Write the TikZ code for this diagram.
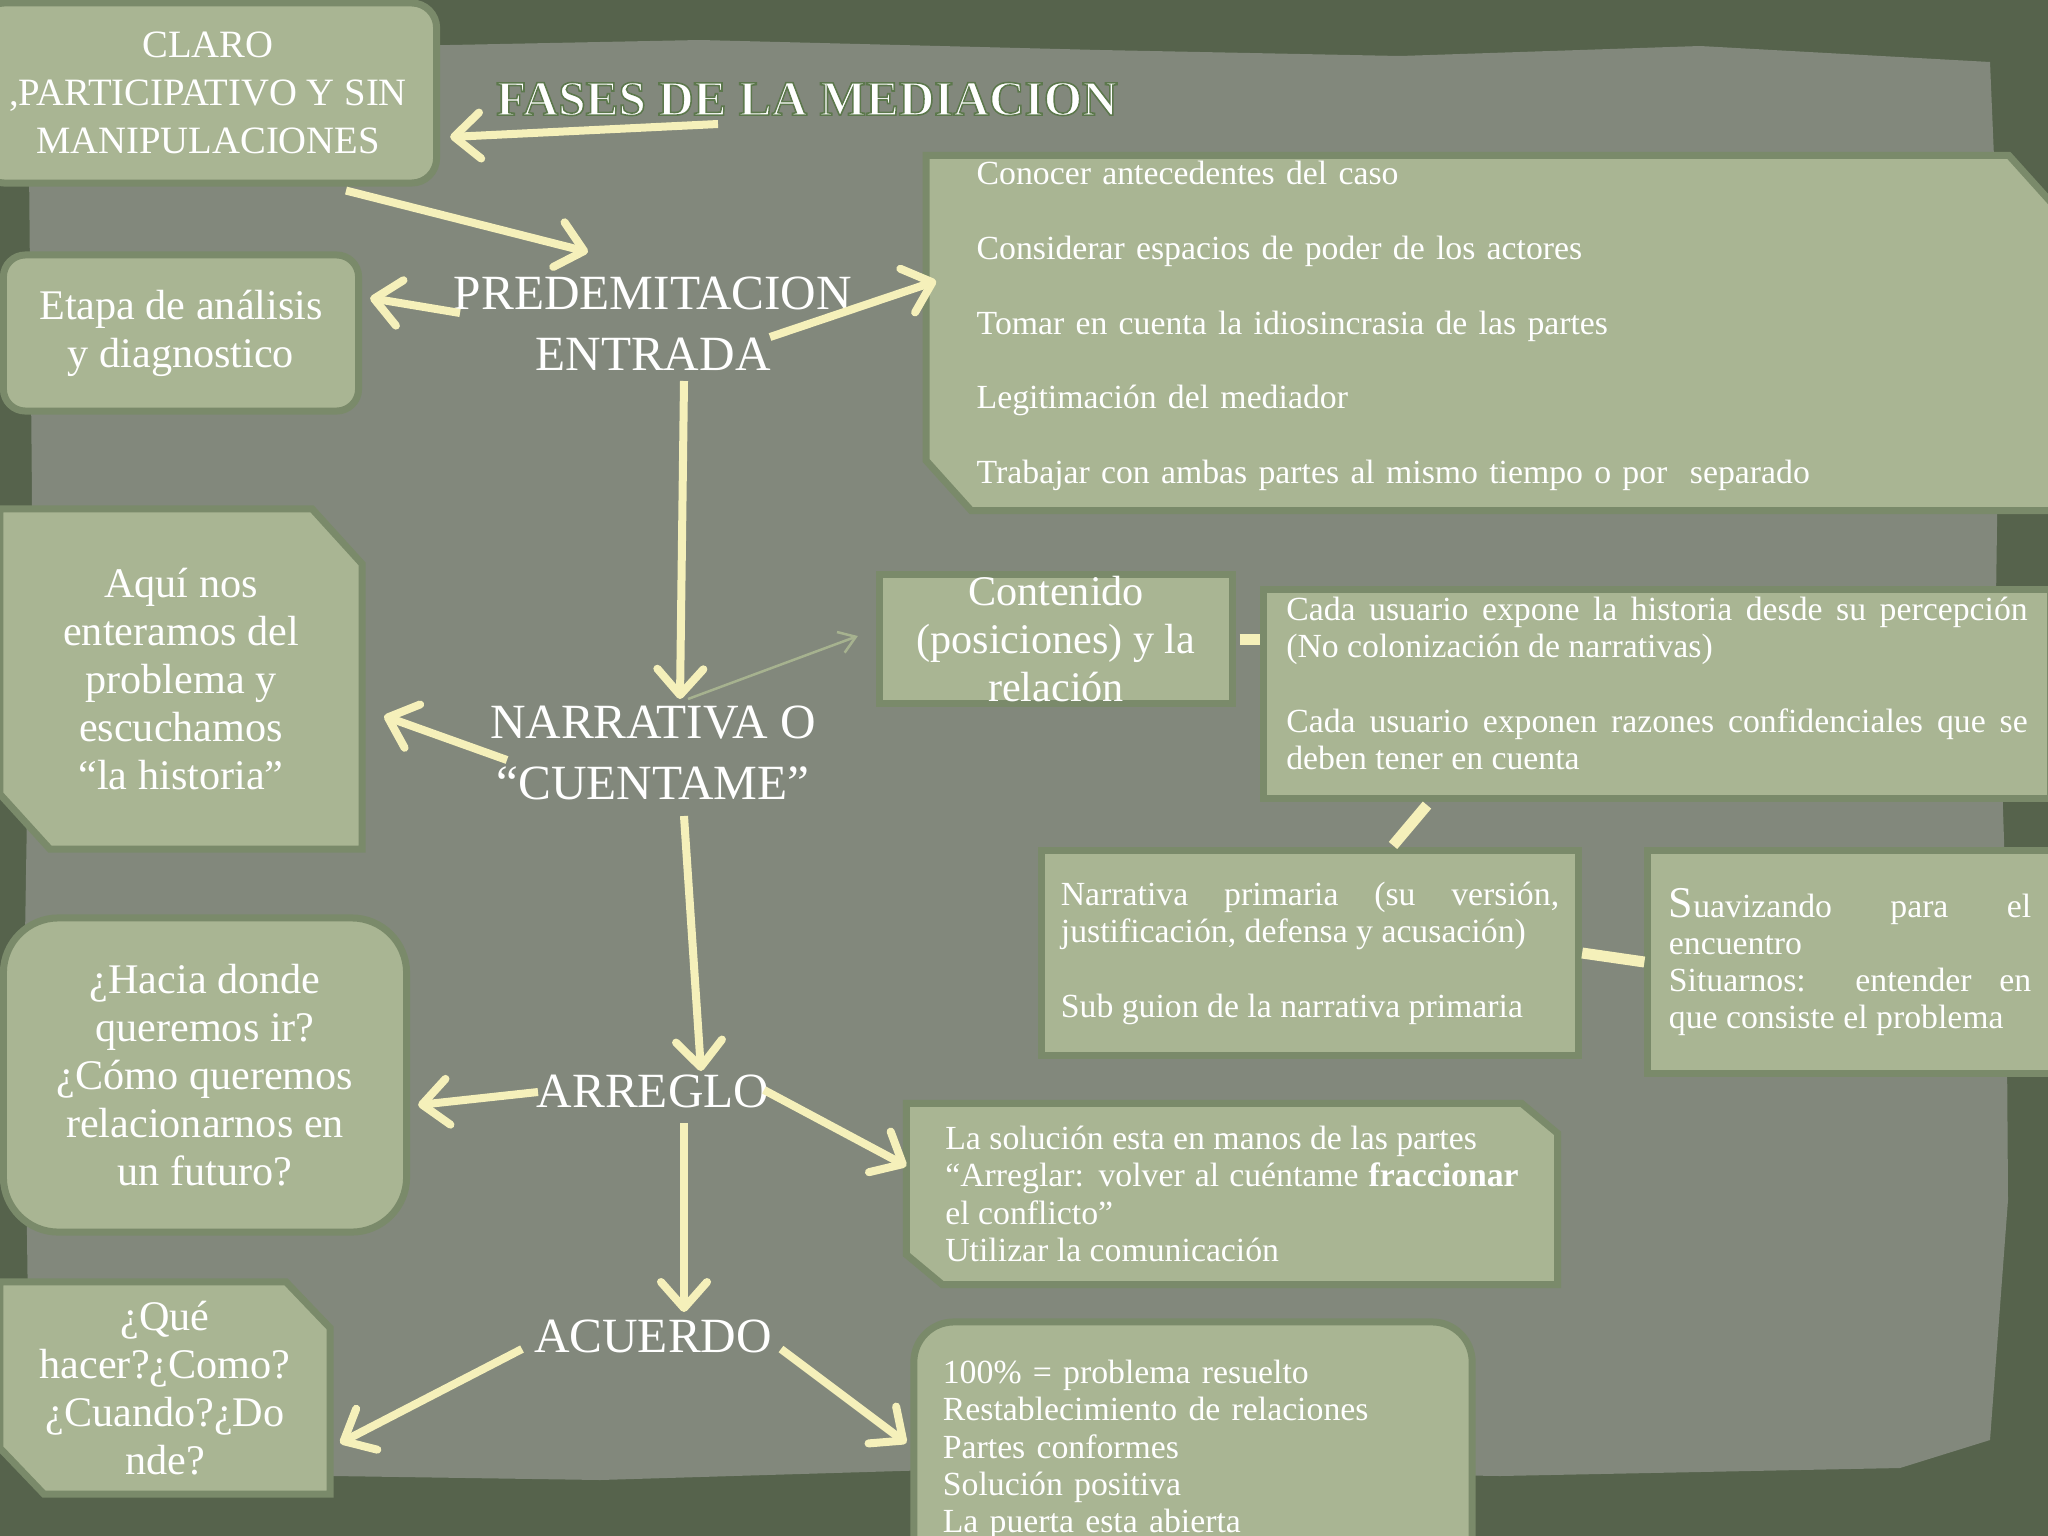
\documentclass[tikz,border=0pt]{standalone}
\usepackage{fontspec}
\setmainfont{Liberation Serif}
\usetikzlibrary{arrows.meta,calc}

\definecolor{bgdark}{HTML}{56634C}
\definecolor{paper}{HTML}{82887C}
\definecolor{boxfill}{HTML}{A9B593}
\definecolor{boxedge}{HTML}{7A8A6A}
\definecolor{cream}{HTML}{F5F0BA}
\definecolor{sage}{HTML}{A6B28F}

\pgfdeclarelayer{back}
\pgfsetlayers{back,main}

\newcommand{\titlefont}{\fontsize{14}{16}\selectfont\bfseries}
\newcommand{\phasefont}{\fontsize{14}{17.4}\selectfont}
\newcommand{\midfont}{\fontsize{12}{13.7}\selectfont}
\newcommand{\clarofont}{\fontsize{11}{13.7}\selectfont}
\newcommand{\smallfont}{\fontsize{9.6}{10.6}\selectfont}
\newcommand{\outlined}[1]{\special{pdf:code 2 Tr 0.45 w 0.36 0.47 0.30 RG}#1\special{pdf:code 0 Tr}}
% box with two cut corners, drawn round a named node
\newcommand{\snipbox}[3]{%
  \draw[boxpath] (#1.north west) -- ($(#1.north east)+(-#2,0)$)
    -- ($(#1.north east)+(0,#3)$) -- (#1.south east)
    -- ($(#1.south west)+(#2,0)$) -- ($(#1.south west)+(0,-#3)$) -- cycle;}

\tikzstyle{phase}=[text=white, align=center, inner sep=0pt, font=\phasefont]
\tikzstyle{boxpath}=[fill=boxfill, draw=boxedge, line width=0.07cm]
\tikzstyle{box}=[shape=rectangle, boxpath, text=white, inner sep=0pt,
                 align=center, font=\midfont]
\tikzstyle{snip}=[box, fill=none, draw=none]
\tikzstyle{arr}=[draw=cream, line width=0.08cm,
                 -{Straight Barb[length=0.26cm,width=0.46cm,round]}]
\tikzstyle{thinarr}=[draw=sage, line width=0.025cm,
                     -{Straight Barb[length=0.16cm,width=0.22cm]}]
\tikzstyle{link}=[draw=cream, line width=0.11cm]

\begin{document}
\begin{tikzpicture}[x=0.01cm, y=-0.01cm]

% background and paper
\useasboundingbox (0,0) rectangle (2048,1536);
\begin{pgfonlayer}{back}
\fill[bgdark] (0,0) rectangle (2048,1536);
\fill[paper] (28,52) -- (400,46) -- (700,40) -- (1100,50) -- (1400,56)
  -- (1700,46) -- (1990,62) -- (2000,300) -- (1996,600) -- (2006,900)
  -- (2008,1200) -- (1990,1440) -- (1900,1468) -- (1500,1476)
  -- (1000,1468) -- (600,1480) -- (200,1474) -- (30,1470) -- (24,1000)
  -- (32,500) -- cycle;
\end{pgfonlayer}

% title
\node[text=white, font=\titlefont, inner sep=0pt] (title) at (807,99)
  {\outlined{FASES DE LA MEDIACION}};

% phases
\node[phase] (pred) at (653,324) {PREDEMITACION\\ENTRADA};
\node[phase] (narr) at (653,753) {NARRATIVA O\\“CUENTAME”};
\node[phase] (arre) at (653,1091) {ARREGLO};
\node[phase] (acue) at (653,1336) {ACUERDO};

% boxes on the left
\node[box, rounded corners=0.25cm, minimum width=4.57cm, minimum height=1.8cm,
      font=\clarofont] (claro) at (208,93)
  {CLARO\\,PARTICIPATIVO Y SIN\\MANIPULACIONES};
\node[box, rounded corners=0.22cm, minimum width=3.55cm, minimum height=1.56cm]
  (etapa) at (181,333) {Etapa de análisis\\y diagnostico};
\node[snip, minimum width=3.55cm, minimum height=3.33cm] (aqui) at (181,679)
  {Aquí nos\\enteramos del\\problema y\\escuchamos\\“la historia”};
\node[box, rounded corners=0.55cm, minimum width=4.03cm, minimum height=3.14cm]
  (hacia) at (205,1075)
  {¿Hacia donde\\queremos ir?\\¿Cómo queremos\\relacionarnos en\\un futuro?};
\node[snip, minimum width=3.23cm, minimum height=2.05cm] (que) at (165,1388)
  {¿Qué\\hacer?¿Como?\\¿Cuando?¿Do\\nde?};

% boxes on the right
\node[snip, minimum width=11.2cm, minimum height=3.48cm, align=left,
      text width=10.26cm, font=\fontsize{9.6}{21.3}\selectfont]
  (antec) at (1490,333)
  {Conocer antecedentes del caso\\
   Considerar espacios de poder de los actores\\
   Tomar en cuenta la idiosincrasia de las partes\\
   Legitimación del mediador\\
   Trabajar con ambas partes al mismo tiempo o por~ separado\par\vspace*{4pt}};
\node[box, minimum width=3.53cm, minimum height=1.28cm] (conte) at (1056,639)
  {Contenido\\(posiciones) y la\\relación};
\node[box, minimum width=7.86cm, minimum height=2.09cm, align=justify,
      text width=7.41cm, font=\smallfont] (cada) at (1657,694)
  {Cada usuario expone la historia desde su percepción\linebreak
   (No colonización de narrativas)\\[10.6pt]
   Cada usuario exponen razones confidenciales que se\linebreak
   deben tener en cuenta\par\vspace*{6pt}};
\node[box, minimum width=5.37cm, minimum height=2.04cm, align=justify,
      text width=4.98cm, font=\smallfont] (prim) at (1310,953)
  {Narrativa primaria (su versión,\linebreak
   justificación, defensa y acusación)\\[10.6pt]
   Sub guion de la narrativa primaria\par};
\node[box, minimum width=4.04cm, minimum height=2.22cm, align=justify,
      text width=3.62cm, font=\smallfont] (suav) at (1850,962)
  {{\fontsize{12.5}{10.6}\selectfont S}uavizando para el\linebreak
   encuentro\\
   Situarnos: entender en\linebreak
   que consiste el problema\par};
\node[snip, minimum width=6.44cm, minimum height=1.74cm, align=justify,
      text width=5.73cm, font=\smallfont] (sol) at (1232,1194)
  {La solución esta en manos de las partes\\
   “Arreglar: volver al cuéntame \textbf{fraccionar}\linebreak
   el conflicto”\\
   Utilizar la comunicación\par};
\node[box, rounded corners=0.4cm, minimum width=5.58cm, minimum height=2.56cm,
      align=left, text width=5.0cm, font=\smallfont] (last) at (1193,1450)
  {100\% = problema resuelto\\
   Restablecimiento de relaciones\\
   Partes conformes\\
   Solución positiva\\
   La puerta esta abierta};

% cut corner shapes behind the texts
\begin{pgfonlayer}{back}
\snipbox{aqui}{50}{55}
\snipbox{que}{44}{46}
\snipbox{antec}{45}{50}
\snipbox{sol}{36}{30}
\end{pgfonlayer}

% arrows
\path ($(title.center)+(-89,25)$) edge[arr] ($(claro.east)+(10,44)$)
      ($(claro.south)+(138,4)$) edge[arr] ($(pred.center)+(-65,-72)$)
      ($(pred.center)+(-193,-11)$) edge[arr] ($(etapa.east)+(8,-35)$)
      ($(pred.center)+(117,13)$) edge[arr] ($(antec.west)+(10,-52)$)
      ($(pred.center)+(31,57)$) edge[arr] ($(narr.center)+(27,-54)$)
      ($(narr.center)+(-146,7)$) edge[arr] ($(aqui.east)+(22,37)$)
      ($(narr.center)+(31,63)$) edge[arr] ($(arre.center)+(48,-20)$)
      ($(arre.center)+(-115,1)$) edge[arr] ($(hacia.east)+(8,30)$)
      ($(arre.center)+(111,-1)$) edge[arr] ($(sol.west)+(0,-28)$)
      ($(arre.center)+(31,32)$) edge[arr] ($(acue.center)+(31,-24)$)
      ($(acue.center)+(-131,13)$) edge[arr] ($(que.east)+(10,55)$)
      ($(acue.center)+(128,13)$) edge[arr] ($(last.west)+(-4,-7)$);
\path ($(narr.center)+(35,-54)$) edge[thinarr] ($(conte.west)+(-18,-3)$);

% links
\draw[link, shorten <=0.035cm] (conte.east) -- ($(cada.west)+(0,-55)$);
\draw[link] ($(cada.south)+(-230,3)$) -- ($(prim.north)+(83,-2)$);
\draw[link] (prim.east) -- (suav.west);

\end{tikzpicture}
\end{document}
